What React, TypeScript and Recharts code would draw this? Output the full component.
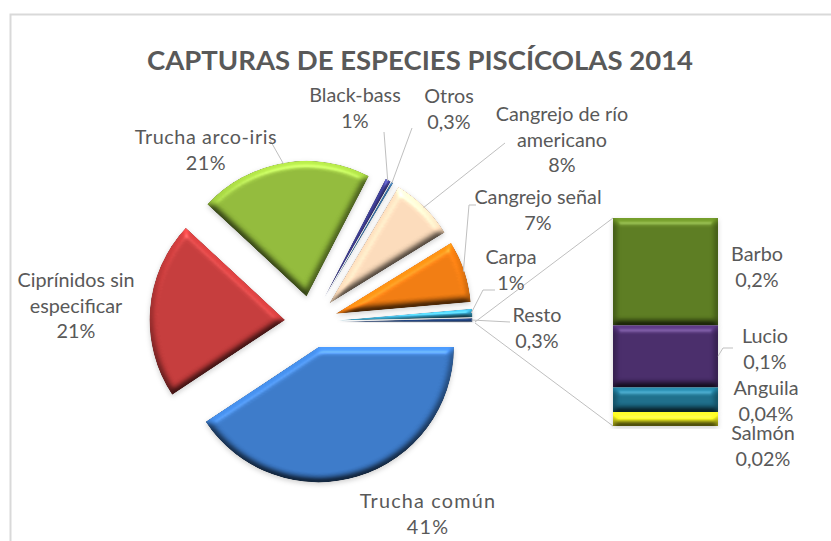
import { Bar, BarChart, Cell, Pie, PieChart, Sector, XAxis, YAxis } from "recharts";

const sliceNames = [
  "Trucha común",
  "Ciprínidos sin especificar",
  "Trucha arco-iris",
  "Black-bass",
  "Otros",
  "Cangrejo de río americano",
  "Cangrejo señal",
  "Carpa",
  "Resto",
];
const sliceValues = [40.7, 21.25, 20.7, 0.67, 0.25, 7.7, 7.4, 1, 0.39];
const sliceColors = ["#3a78c6", "#c23a3a", "#90b83a", "#3c3c90", "#2f6aa0", "#f8d8b8", "#ee7a10", "#35a0c4", "#1c3f7c"];
const restNames = ["Barbo", "Lucio", "Anguila", "Salmón"];
const restValues = [0.185, 0.107, 0.043, 0.024];
const restColors = ["#5a7a20", "#472b68", "#1c6c88", "#f6f620"];

const TEXT = "#595959";
const LINE = "#bfbfbf";
const EXPLODE = 26;
const RAD = Math.PI / 180;

// label layout, one entry per pie slice: text lines (center x, first line y), then leader polyline end points
const pieLabels = [
  { x: 428, y: 508, spread: 1.2, lines: ["Trucha común", "41%"], leader: [] },
  { x: 76, y: 287, lines: ["Ciprínidos sin", "especificar", "21%"], leader: [] },
  { x: 206, y: 144, spread: 0.6, lines: ["Trucha arco-iris", "21%"], leader: [[270, 140]] },
  { x: 355, y: 102, lines: ["Black-bass", "1%"], leader: [[384, 132]] },
  { x: 449, y: 103, lines: ["Otros", "0,3%"], leader: [[412, 128]] },
  { x: 562, y: 121, lines: ["Cangrejo de río", "americano", "8%"], leader: [[505, 143]] },
  { x: 538, y: 204, lines: ["Cangrejo señal", "7%"], leader: [[469, 205], [476, 205]] },
  { x: 511, y: 264, lines: ["Carpa", "1%"], leader: [[483, 290], [495, 290]] },
  { x: 537, y: 322, lines: ["Resto", "0,3%"], leader: [[510, 322]] },
];
const restLabels = [
  { x: 757, y: 261, lines: ["Barbo", "0,2%"], leader: [] },
  { x: 765, y: 343, lines: ["Lucio", "0,1%"], leader: [[723, 348], [733, 348]] },
  { x: 766, y: 395, lines: ["Anguila", "0,04%"], leader: [] },
  { x: 763, y: 440, lines: ["Salmón", "0,02%"], leader: [] },
];

const pieData = sliceNames.map((name, i) => ({ name, value: sliceValues[i] }));
const restData = [
  Object.fromEntries([["group", "Resto"], ...restNames.map((n, i) => [n, restValues[i]])]),
];

const labelText = (item: { x: number; y: number; spread?: number; lines: string[] }) => (
  <text
    textAnchor="middle"
    fontFamily="Lato, sans-serif"
    fontSize={19.8}
    fill={TEXT}
    stroke="none"
    letterSpacing={item.spread ?? 0}
  >
    {item.lines.map((line, i) => (
      <tspan key={line} x={item.x} y={item.y + i * 25.5}>
        {line}
      </tspan>
    ))}
  </text>
);

// slices are pushed out from the centre along their own mid angle
const explodeOffset = (midAngle: number) => ({
  dx: EXPLODE * Math.cos(-midAngle * RAD),
  dy: EXPLODE * Math.sin(-midAngle * RAD),
});

const ExplodedSlice = (props: any) => {
  const { dx, dy } = explodeOffset(props.midAngle);
  return (
    <g transform={`translate(${dx} ${dy})`}>
      <Sector {...props} stroke="none" filter="url(#bevel)" />
    </g>
  );
};

const PieLabel = (props: any) => {
  const { cx, cy, midAngle, outerRadius, index } = props;
  const item = pieLabels[index];
  const { dx, dy } = explodeOffset(midAngle);
  const startX = cx + dx + (outerRadius - 1) * Math.cos(-midAngle * RAD);
  const startY = cy + dy + (outerRadius - 1) * Math.sin(-midAngle * RAD);
  const points = [[startX, startY], ...item.leader].map((p) => p.join(",")).join(" ");
  return (
    <g>
      {item.leader.length > 0 && <polyline points={points} fill="none" stroke={LINE} strokeWidth={1} />}
      {labelText(item)}
    </g>
  );
};

const RestLabel = (index: number) => (props: any) => {
  const item = restLabels[index];
  const startX = props.x + props.width;
  const startY = props.y + props.height / 2;
  const points = [[startX, startY], ...item.leader].map((p) => p.join(",")).join(" ");
  return (
    <g>
      {item.leader.length > 0 && <polyline points={points} fill="none" stroke={LINE} strokeWidth={1} />}
      {labelText(item)}
    </g>
  );
};

const layer = { position: "absolute", left: 0, top: 0 } as const;

export default function App() {
  return (
    <div style={{ ...layer, width: 831, height: 541, background: "#fff", overflow: "hidden" }}>
      <svg width={831} height={541} style={layer}>
        <defs>
          <filter id="bevel" x="-15%" y="-15%" width="130%" height="130%" colorInterpolationFilters="sRGB">
            <feGaussianBlur in="SourceAlpha" stdDeviation="3.5" result="blur" />
            <feDiffuseLighting in="blur" surfaceScale="5" diffuseConstant="1" lightingColor="#ffffff" result="light">
              <feDistantLight azimuth="270" elevation="45" />
            </feDiffuseLighting>
            <feComposite in="SourceGraphic" in2="light" operator="arithmetic" k1="0.95" k2="0.33" k3="0" k4="0" result="lit" />
            <feSpecularLighting in="blur" surfaceScale="5" specularConstant="0.5" specularExponent="30" lightingColor="#ffffff" result="spec">
              <feDistantLight azimuth="270" elevation="45" />
            </feSpecularLighting>
            <feComposite in="lit" in2="spec" operator="arithmetic" k1="0" k2="1" k3="0.3" k4="0" result="shiny" />
            <feComposite in="shiny" in2="SourceAlpha" operator="in" result="shape" />
            <feGaussianBlur in="SourceAlpha" stdDeviation="2.5" result="soft" />
            <feOffset in="soft" dy="2" result="offset" />
            <feFlood floodColor="#000000" floodOpacity="0.18" />
            <feComposite in2="offset" operator="in" result="shadow" />
            <feMerge>
              <feMergeNode in="shadow" />
              <feMergeNode in="shape" />
            </feMerge>
          </filter>
        </defs>
        <rect x={10.5} y={14.5} width={840} height={560} fill="#fff" stroke="#d9d9d9" strokeWidth={2} />
        <text
          x={420}
          y={70}
          textAnchor="middle"
          fontFamily="Lato, sans-serif"
          fontWeight={700}
          fontSize={27.5}
          fill={TEXT}
        >
          CAPTURAS DE ESPECIES PISCÍCOLAS 2014
        </text>
        <line x1={475} y1={322} x2={613} y2={218} stroke={LINE} strokeWidth={1} />
        <line x1={475} y1={323} x2={613} y2={426} stroke={LINE} strokeWidth={1} />
      </svg>
      <div style={layer}>
        <PieChart width={831} height={541} margin={{ top: 0, right: 0, bottom: 0, left: 0 }}>
          <Pie
            data={pieData}
            dataKey="value"
            nameKey="name"
            cx={311}
            cy={322}
            outerRadius={135.5}
            startAngle={0}
            endAngle={-360}
            stroke="none"
            isAnimationActive={false}
            shape={ExplodedSlice}
            label={PieLabel}
            labelLine={false}
          >
            {pieData.map((d, i) => (
              <Cell key={d.name} fill={sliceColors[i]} />
            ))}
          </Pie>
        </PieChart>
      </div>
      <div style={layer}>
        <BarChart
          width={831}
          height={541}
          data={restData}
          margin={{ top: 218, right: 113, bottom: 115, left: 613 }}
          barCategoryGap={0}
        >
          <XAxis dataKey="group" hide />
          <YAxis hide reversed domain={[0, 0.359]} />
          {restNames.map((n, i) => (
            <Bar
              key={n}
              dataKey={n}
              stackId="rest"
              fill={restColors[i]}
              filter="url(#bevel)"
              isAnimationActive={false}
              label={RestLabel(i)}
            />
          ))}
        </BarChart>
      </div>
    </div>
  );
}
